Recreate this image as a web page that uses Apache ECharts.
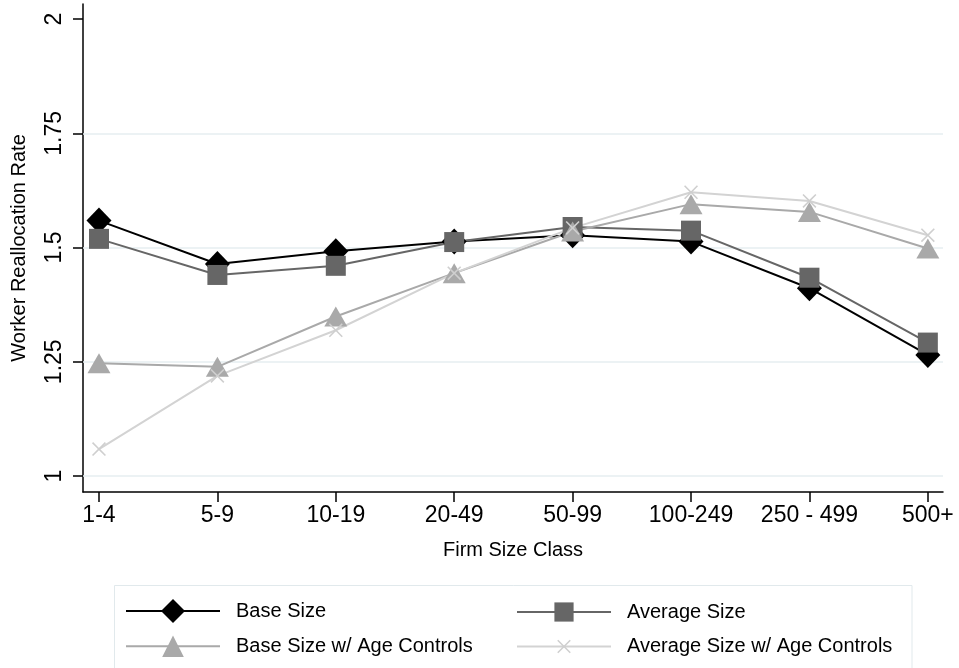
<!DOCTYPE html>
<html>
<head>
<meta charset="utf-8">
<script src="https://cdn.jsdelivr.net/npm/echarts@6/dist/echarts.min.js"></script>
<style>
html,body{margin:0;padding:0;background:#fff;}
#chart{width:959px;height:668px;}
</style>
</head>
<body>
<div id="chart"></div>
<script>
const categories = ['1-4', '5-9', '10-19', '20-49', '50-99', '100-249', '250 - 499', '500+'];
const baseSize = [1.559, 1.464, 1.492, 1.513, 1.527, 1.513, 1.411, 1.265];
const averageSize = [1.519, 1.440, 1.460, 1.512, 1.545, 1.537, 1.434, 1.292];
const baseSizeAge = [1.247, 1.239, 1.349, 1.444, 1.535, 1.595, 1.578, 1.498];
const averageSizeAge = [1.059, 1.219, 1.319, 1.444, 1.543, 1.621, 1.602, 1.527];
const yTicks = [1, 1.25, 1.5, 1.75, 2];
const gridValues = [1, 1.25, 1.5, 1.75];
const seriesNames = ['Base Size', 'Average Size', 'Base Size w/ Age Controls', 'Average Size w/ Age Controls'];

const FONT = "'Liberation Sans', Arial, Helvetica, sans-serif";
const xIdx = categories.map((c, i) => i);
const toPairs = arr => arr.map((v, i) => [i, v]);
const X_SYMBOL = 'path://M0,8L8,0L50,42L92,0L100,8L58,50L100,92L92,100L50,58L8,100L0,92L42,50Z';

const chart = echarts.init(document.getElementById('chart'), null, {renderer: 'canvas'});

function legendAt(name, left, top, h) {
  return {
    data: [name], left: left, top: top, padding: 0,
    itemWidth: 94, itemHeight: h, selectedMode: false,
    textStyle: {fontFamily: FONT, fontSize: 20, color: '#000', padding: [0, 0, 0, 11]}
  };
}

const option = {
  animation: false,
  backgroundColor: '#fff',
  grid: {left: 83, right: 16, top: 4, bottom: 176, containLabel: false},
  graphic: [{
    type: 'rect', z: 0, silent: true,
    shape: {x: 114.5, y: 585.5, width: 797.5, height: 120},
    style: {fill: '#fff', stroke: '#e1e9ec', lineWidth: 1}
  }],
  legend: [
    legendAt(seriesNames[0], 125, 599, 30),
    legendAt(seriesNames[1], 516, 602, 24),
    legendAt(seriesNames[2], 125, 635.5, 27),
    legendAt(seriesNames[3], 516, 636.5, 17)
  ],
  xAxis: {
    type: 'value', min: -0.135, max: 7.128,
    name: 'Firm Size Class', nameLocation: 'middle', nameGap: 48,
    nameTextStyle: {fontFamily: FONT, fontSize: 20, color: '#000', lineHeight: 20},
    axisLine: {show: true, onZero: false, lineStyle: {color: '#000', width: 1.5}},
    axisTick: {show: true, customValues: xIdx, length: 10, lineStyle: {color: '#000', width: 1.5}},
    axisLabel: {customValues: xIdx, formatter: v => categories[Math.round(v)], fontFamily: FONT, fontSize: 23, color: '#000', margin: 12, lineHeight: 23},
    splitLine: {show: false}
  },
  yAxis: {
    type: 'value', min: 0.965, max: 2.033,
    name: 'Worker Reallocation Rate', nameLocation: 'middle', nameGap: 54,
    nameTextStyle: {fontFamily: FONT, fontSize: 20, color: '#000', lineHeight: 20},
    axisLine: {show: true, onZero: false, lineStyle: {color: '#000', width: 1.5}},
    axisTick: {show: true, customValues: yTicks, length: 10, lineStyle: {color: '#000', width: 1.5}},
    axisLabel: {customValues: yTicks, rotate: 90, formatter: v => String(v), fontFamily: FONT, fontSize: 23, color: '#000', margin: 17, lineHeight: 23},
    splitLine: {show: false}
  },
  series: [
    {
      name: seriesNames[0], type: 'line', data: toPairs(baseSize),
      symbol: 'diamond', symbolSize: [25, 26],
      itemStyle: {color: '#000'}, lineStyle: {color: '#000', width: 2},
      markLine: {
        silent: true, z: 1, symbol: ['none', 'none'], label: {show: false},
        lineStyle: {color: '#e6eef1', width: 1.5, type: 'solid'},
        emphasis: {disabled: true},
        data: gridValues.map(v => ({yAxis: v}))
      }
    },
    {
      name: seriesNames[1], type: 'line', data: toPairs(averageSize),
      symbol: 'rect', symbolSize: 20,
      itemStyle: {color: '#666666'}, lineStyle: {color: '#666666', width: 2}
    },
    {
      name: seriesNames[2], type: 'line', data: toPairs(baseSizeAge),
      symbol: 'triangle', symbolSize: [23, 20],
      itemStyle: {color: '#a9a9a9'}, lineStyle: {color: '#a9a9a9', width: 2}
    },
    {
      name: seriesNames[3], type: 'line', data: toPairs(averageSizeAge),
      symbol: X_SYMBOL, symbolSize: 14,
      itemStyle: {color: '#cfcfcf'}, lineStyle: {color: '#d3d3d3', width: 2}
    }
  ]
};
chart.setOption(option);
</script>
</body>
</html>
